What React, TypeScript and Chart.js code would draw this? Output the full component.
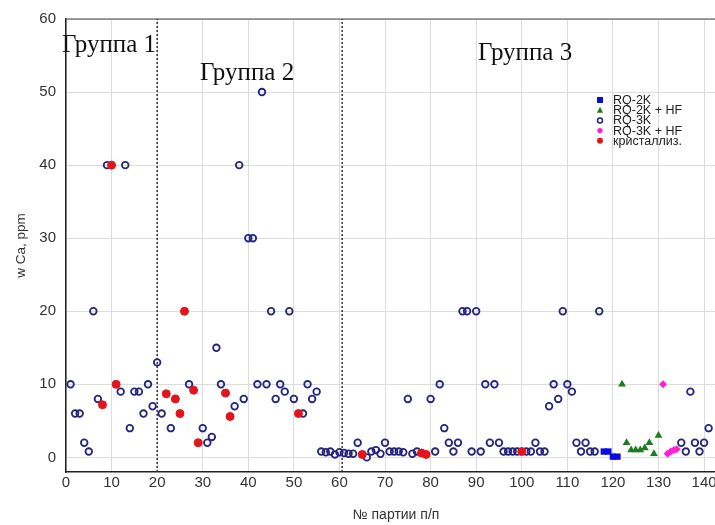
import { useEffect, useRef } from "react";
import { Chart, registerables } from "chart.js";

Chart.register(...registerables);

// ---- data ----
const rq3kX = [1, 2, 3, 4, 5, 6, 7, 9, 12, 13, 14, 15, 16, 17, 18, 19, 20, 21, 23, 27, 30, 31, 32, 33, 34, 37, 38, 39, 40, 41, 42, 43, 44, 45, 46, 47, 48, 49, 50, 52, 53, 54, 55, 56, 57, 58, 59, 60, 61, 62, 63, 64, 66, 67, 68, 69, 70, 71, 72, 73, 74, 75, 76, 77, 80, 81, 82, 83, 84, 85, 86, 87, 88, 89, 90, 91, 92, 93, 94, 95, 96, 97, 98, 99, 101, 102, 103, 104, 105, 106, 107, 108, 109, 110, 111, 112, 113, 114, 115, 116, 117, 135, 136, 137, 138, 139, 140, 141];
const rq3kY = [10, 6, 6, 2, 0.8, 20, 8, 40, 9, 40, 4, 9, 9, 6, 10, 7, 13, 6, 4, 10, 4, 2, 2.8, 15, 10, 7, 40, 8, 30, 30, 10, 50, 10, 20, 8, 10, 9, 20, 8, 6, 10, 8, 9, 0.8, 0.7, 0.8, 0.4, 0.7, 0.6, 0.5, 0.5, 2, 0, 0.8, 1, 0.5, 2, 0.8, 0.8, 0.8, 0.7, 8, 0.5, 0.8, 8, 0.8, 10, 4, 2, 0.8, 2, 20, 20, 0.8, 20, 0.8, 10, 2, 10, 2, 0.8, 0.8, 0.8, 0.8, 0.8, 0.8, 2, 0.8, 0.8, 7, 10, 8, 20, 10, 9, 2, 0.8, 2, 0.8, 0.8, 20, 2, 0.8, 9, 2, 0.8, 2, 4];

const crystX = [8, 10, 11, 22, 24, 25, 26, 28, 29, 35, 36, 51, 65, 78, 79, 100];
const crystY = [7.2, 40, 10, 8.7, 8, 6, 20, 9.2, 2, 8.8, 5.6, 6, 0.4, 0.6, 0.4, 0.8];

const rq2kX = [118, 119, 120, 121];
const rq2kY = [0.8, 0.8, 0.1, 0.1];

const rq2kHfX = [122, 123, 124, 125, 126, 127, 128, 129, 130];
const rq2kHfY = [10, 2, 1, 1, 1, 1.3, 2, 0.5, 3];

const rq3kHfX = [131, 132, 132.7, 133.4, 134];
const rq3kHfY = [10, 0.5, 0.8, 1, 1.1];

const dividerX = [20, 60.6];

const xTicks = [0, 10, 20, 30, 40, 50, 60, 70, 80, 90, 100, 110, 120, 130, 140];
const yTicks = [0, 10, 20, 30, 40, 50, 60];

const groupNames = ["Группа 1", "Группа 2", "Группа 3"];
const groupX = [-0.9, 29.4, 90.4];
const groupY = [55.5, 51.7, 54.4];

const legendLabels = ["RQ-2K", "RQ-2K + HF", "RQ-3K", "RQ-3K + HF", "кристаллиз."];

// ---- styles ----
const C_RQ3K = "#25257e";
const C_CRYST = "#e3141b";
const C_RQ2K = "#0a0ae2";
const C_RQ2KHF = "#1d7a1d";
const C_RQ3KHF = "#ff1fd6";
const SANS = '"Liberation Sans Narrow", "Liberation Sans", Arial, sans-serif';
const SANS_W = '"Liberation Sans", Arial, sans-serif';

const pts = (xs: number[], ys: number[]) => xs.map((x, i) => ({ x, y: ys[i] }));

const framePlugin = {
  id: "frame",
  beforeDatasetsDraw(chart: any) {
    const { ctx, chartArea } = chart;
    ctx.save();
    ctx.strokeStyle = "#444";
    ctx.lineWidth = 1.2;
    ctx.beginPath();
    ctx.moveTo(chartArea.left, chartArea.top);
    ctx.lineTo(chartArea.right, chartArea.top);
    ctx.stroke();
    ctx.restore();
  },
};

const groupPlugin = {
  id: "groups",
  afterDraw(chart: any) {
    const { ctx, scales } = chart;
    ctx.save();
    ctx.fillStyle = "#111";
    ctx.font = '25px "Liberation Serif", "Times New Roman", serif';
    ctx.textBaseline = "alphabetic";
    ctx.textAlign = "left";
    groupNames.forEach((t, i) => {
      ctx.fillText(t, scales.x.getPixelForValue(groupX[i]), scales.y.getPixelForValue(groupY[i]));
    });
    ctx.restore();
  },
};

const xTitlePlugin = {
  id: "xTitle",
  afterDraw(chart: any) {
    const { ctx } = chart;
    ctx.save();
    ctx.fillStyle = "#333";
    ctx.font = "14px " + SANS;
    ctx.textAlign = "center";
    ctx.textBaseline = "middle";
    ctx.fillText("№ партии п/п", 396, 515);
    ctx.restore();
  },
};

const legendPlugin = {
  id: "customLegend",
  afterDraw(chart: any) {
    const { ctx } = chart;
    const mx = 600;
    const tx = 613;
    const y0 = 100;
    const dy = 10.2;
    ctx.save();
    ctx.font = "12.5px " + SANS_W;
    ctx.textBaseline = "middle";
    ctx.fillStyle = "#222";
    legendLabels.forEach((t, i) => {
      const y = y0 + i * dy;
      ctx.save();
      if (i === 0) {
        ctx.fillStyle = C_RQ2K;
        ctx.fillRect(mx - 3, y - 3, 6, 6);
      } else if (i === 1) {
        ctx.fillStyle = C_RQ2KHF;
        ctx.beginPath();
        ctx.moveTo(mx, y - 3.5);
        ctx.lineTo(mx + 3, y + 2.5);
        ctx.lineTo(mx - 3, y + 2.5);
        ctx.closePath();
        ctx.fill();
      } else if (i === 2) {
        ctx.strokeStyle = C_RQ3K;
        ctx.lineWidth = 1.5;
        ctx.beginPath();
        ctx.arc(mx, y, 2.5, 0, Math.PI * 2);
        ctx.stroke();
      } else if (i === 3) {
        ctx.fillStyle = C_RQ3KHF;
        ctx.beginPath();
        ctx.arc(mx, y, 2.7, 0, Math.PI * 2);
        ctx.fill();
      } else {
        ctx.fillStyle = C_CRYST;
        ctx.beginPath();
        ctx.arc(mx, y, 3, 0, Math.PI * 2);
        ctx.fill();
      }
      ctx.restore();
      ctx.fillText(t, tx, y + 0.5);
    });
    ctx.restore();
  },
};

export default function App() {
  const ref = useRef<HTMLCanvasElement | null>(null);

  useEffect(() => {
    if (!ref.current) return;
    const chart = new Chart(ref.current, {
      type: "scatter",
      data: {
        datasets: [
          {
            label: legendLabels[4],
            data: pts(crystX, crystY),
            pointStyle: "circle",
            pointRadius: 4,
            backgroundColor: C_CRYST,
            borderColor: C_CRYST,
            borderWidth: 1,
          },
          {
            label: legendLabels[0],
            data: pts(rq2kX, rq2kY),
            pointStyle: "rect",
            pointRadius: 4.5,
            backgroundColor: C_RQ2K,
            borderColor: C_RQ2K,
            borderWidth: 0,
          },
          {
            label: legendLabels[1],
            data: pts(rq2kHfX, rq2kHfY),
            pointStyle: "triangle",
            pointRadius: 4.5,
            backgroundColor: C_RQ2KHF,
            borderColor: C_RQ2KHF,
            borderWidth: 0,
          },
          {
            label: legendLabels[3],
            data: pts(rq3kHfX, rq3kHfY),
            pointStyle: "rectRot",
            pointRadius: 4,
            backgroundColor: C_RQ3KHF,
            borderColor: C_RQ3KHF,
            borderWidth: 0,
          },
          {
            label: legendLabels[2],
            data: pts(rq3kX, rq3kY),
            pointStyle: "circle",
            pointRadius: 3.3,
            backgroundColor: "rgba(255,255,255,0)",
            borderColor: C_RQ3K,
            borderWidth: 1.8,
          },
          ...dividerX.map((dx) => ({
            type: "line" as const,
            label: "divider",
            data: [
              { x: dx, y: -2 },
              { x: dx, y: 60 },
            ],
            borderColor: "#333",
            borderWidth: 1.5,
            borderDash: [2, 2],
            pointRadius: 0,
            showLine: true,
          })),
        ] as any,
      },
      options: {
        animation: false,
        responsive: false,
        layout: { autoPadding: false, padding: { top: 16, left: 0, right: 0, bottom: 0 } },
        plugins: {
          legend: { display: false },
          tooltip: { enabled: false },
        },
        scales: {
          x: {
            type: "linear",
            min: 0,
            max: 142.4,
            afterBuildTicks: (s: any) => {
              s.ticks = xTicks.map((v) => ({ value: v }));
            },
            afterFit: (s: any) => {
              s.height = 53;
              s.paddingRight = 0;
              s.paddingLeft = 0;
            },
            grid: { color: "#dcdcdc", lineWidth: 1, drawTicks: false },
            border: { color: "#222", width: 1.5 },
            ticks: {
              font: { size: 15, family: SANS },
              color: "#333",
              padding: 2,
              maxRotation: 0,
              autoSkip: false,
            },
            title: { display: false },
          },
          y: {
            type: "linear",
            min: -2,
            max: 60,
            afterBuildTicks: (s: any) => {
              s.ticks = yTicks.map((v) => ({ value: v }));
            },
            afterFit: (s: any) => {
              s.width = 66;
            },
            grid: { color: "#dcdcdc", lineWidth: 1, drawTicks: false },
            border: { color: "#222", width: 1.5 },
            ticks: {
              font: { size: 15, family: SANS },
              color: "#333",
              padding: 10,
            },
            title: {
              display: true,
              text: "w Ca, ppm",
              font: { size: 13.5, family: SANS },
              color: "#333",
              padding: { top: 13.5, bottom: 0 },
            },
          },
        },
      },
      plugins: [framePlugin, groupPlugin, legendPlugin, xTitlePlugin],
    });
    return () => chart.destroy();
  }, []);

  return (
    <div style={{ position: "absolute", left: 0, top: 0, width: 715, height: 525, background: "#fff" }}>
      <canvas ref={ref} width={715} height={525} style={{ display: "block", width: 715, height: 525 }} />
    </div>
  );
}
